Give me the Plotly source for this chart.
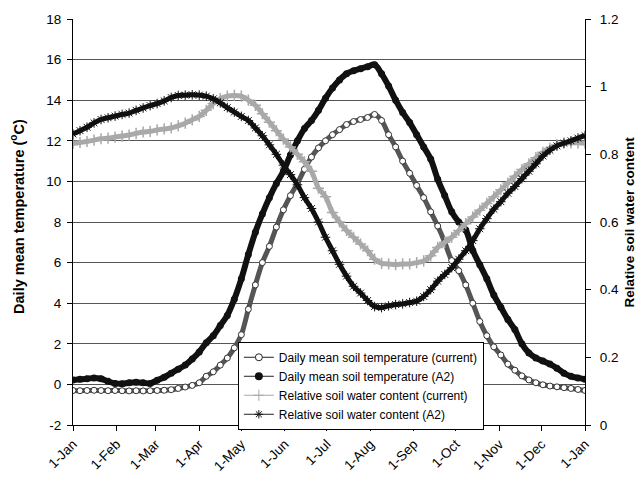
import plotly.graph_objects as go

# Day of year (every 5 days, 0 = 1 Jan, 365 = 1 Jan of the following year)
days = list(range(0, 366, 5))

# Daily mean soil temperature (°C), current climate
temp_current = [
    -0.30, -0.31, -0.30, -0.29, -0.30, -0.31, -0.30, -0.31, -0.32, -0.31,
    -0.32, -0.31, -0.30, -0.29, -0.26, -0.20, -0.13, -0.05, 0.08, 0.40,
    0.62, 0.95, 1.30, 1.80, 2.45, 3.70, 4.90, 6.00, 6.80, 7.75,
    8.60, 9.30, 9.90, 10.60, 11.20, 11.65, 12.00, 12.30, 12.55, 12.80,
    12.95, 13.05, 13.15, 13.30, 13.00, 12.30, 11.70, 11.00, 10.40, 9.80,
    9.20, 8.50, 7.80, 7.00, 6.10, 5.60, 4.90, 4.00, 3.10, 2.40,
    1.85, 1.45, 1.00, 0.70, 0.42, 0.22, 0.08, -0.02, -0.08, -0.12,
    -0.16, -0.20, -0.25, -0.30,
]

# Daily mean soil temperature (°C), A2 scenario
temp_a2 = [
    0.22, 0.25, 0.28, 0.32, 0.28, 0.15, 0.05, 0.03, 0.08, 0.10,
    0.08, 0.05, 0.20, 0.35, 0.55, 0.75, 0.95, 1.25, 1.60, 2.05,
    2.40, 2.90, 3.40, 4.20, 5.20, 6.40, 7.50, 8.40, 9.20, 9.90,
    10.50, 11.30, 12.00, 12.60, 13.00, 13.50, 14.10, 14.60, 15.00, 15.30,
    15.45, 15.55, 15.65, 15.75, 15.30, 14.70, 14.00, 13.40, 12.90, 12.30,
    11.70, 11.10, 10.10, 9.30, 8.50, 8.00, 7.60, 6.60, 5.90, 5.20,
    4.40, 3.80, 3.20, 2.70, 2.00, 1.55, 1.30, 1.15, 1.00, 0.80,
    0.55, 0.40, 0.32, 0.25,
]

# Relative soil water content, current climate
water_current = [
    0.832, 0.835, 0.838, 0.842, 0.846, 0.848, 0.851, 0.854, 0.857, 0.862,
    0.866, 0.868, 0.872, 0.875, 0.878, 0.884, 0.892, 0.902, 0.912, 0.930,
    0.950, 0.965, 0.972, 0.974, 0.972, 0.960, 0.945, 0.920, 0.895, 0.870,
    0.845, 0.822, 0.800, 0.778, 0.750, 0.700, 0.675, 0.628, 0.600, 0.575,
    0.555, 0.535, 0.515, 0.490, 0.478, 0.476, 0.474, 0.476, 0.476, 0.480,
    0.485, 0.500, 0.525, 0.540, 0.555, 0.575, 0.595, 0.615, 0.635, 0.655,
    0.675, 0.695, 0.715, 0.735, 0.755, 0.772, 0.790, 0.806, 0.818, 0.828,
    0.833, 0.834, 0.834, 0.833,
]

# Relative soil water content, A2 scenario
water_a2 = [
    0.860, 0.870, 0.880, 0.893, 0.903, 0.908, 0.913, 0.918, 0.922, 0.930,
    0.937, 0.944, 0.950, 0.958, 0.968, 0.974, 0.975, 0.976, 0.975, 0.972,
    0.964, 0.952, 0.938, 0.925, 0.912, 0.900, 0.878, 0.855, 0.828, 0.800,
    0.768, 0.740, 0.710, 0.672, 0.640, 0.600, 0.555, 0.515, 0.475, 0.440,
    0.410, 0.390, 0.368, 0.350, 0.347, 0.352, 0.356, 0.358, 0.362, 0.366,
    0.380, 0.400, 0.425, 0.445, 0.465, 0.490, 0.515, 0.545, 0.580, 0.610,
    0.638, 0.660, 0.685, 0.705, 0.728, 0.750, 0.772, 0.795, 0.812, 0.825,
    0.833, 0.840, 0.848, 0.855,
]

month_days = [0, 31, 59, 90, 120, 151, 181, 212, 243, 273, 304, 334, 365]
month_labels = ["1-Jan", "1-Feb", "1-Mar", "1-Apr", "1-May", "1-Jun", "1-Jul",
                "1-Aug", "1-Sep", "1-Oct", "1-Nov", "1-Dec", "1-Jan"]

temp_ticks = [-2, 0, 2, 4, 6, 8, 10, 12, 14, 16, 18]
temp_tick_labels = ["-2", "0", "2", "4", "6", "8", "10", "12", "14", "16", "18"]

names = [
    "Daily mean soil temperature (current)",
    "Daily mean soil temperature (A2)",
    "Relative soil water content (current)",
    "Relative soil water content (A2)",
]

FONT = "Liberation Sans, Arial, sans-serif"
GRAY = "#a9a9a9"

fig = go.Figure()

# Dense marker bands for each series
fig.add_trace(go.Scatter(
    x=days, y=temp_current, mode="lines+markers", showlegend=False,
    line=dict(color="#555555", width=5, shape="spline"),
    marker=dict(symbol="circle", size=6, color="white",
                line=dict(color="#333333", width=1)),
))
fig.add_trace(go.Scatter(
    x=days, y=temp_a2, mode="lines+markers", showlegend=False,
    line=dict(color="#111111", width=6, shape="spline"),
    marker=dict(symbol="circle", size=7, color="#111111"),
))
fig.add_trace(go.Scatter(
    x=days, y=water_current, mode="lines+markers", showlegend=False, yaxis="y2",
    line=dict(color=GRAY, width=5, shape="spline"),
    marker=dict(symbol="cross-thin", size=8, color=GRAY,
                line=dict(color=GRAY, width=1.5)),
))
fig.add_trace(go.Scatter(
    x=days, y=water_a2, mode="lines+markers", showlegend=False, yaxis="y2",
    line=dict(color="#111111", width=5, shape="spline"),
    marker=dict(symbol="asterisk", size=8, color="#111111",
                line=dict(color="#111111", width=1)),
))

# Legend entries (thin line with the series marker)
legend_styles = [
    dict(line=dict(color="#222222", width=1),
         marker=dict(symbol="circle", size=7, color="white",
                     line=dict(color="#222222", width=1))),
    dict(line=dict(color="#222222", width=1),
         marker=dict(symbol="circle", size=8, color="#111111")),
    dict(line=dict(color=GRAY, width=1),
         marker=dict(symbol="cross-thin", size=8, color=GRAY,
                     line=dict(color=GRAY, width=1))),
    dict(line=dict(color="#222222", width=1),
         marker=dict(symbol="asterisk", size=7, color="#111111",
                     line=dict(color="#111111", width=1))),
]
for name, style in zip(names, legend_styles):
    fig.add_trace(go.Scatter(x=[None], y=[None], mode="lines+markers",
                             name=name, **style))

axis_common = dict(
    showline=True, linecolor="black", linewidth=1,
    ticks="outside", ticklen=5, tickcolor="black", tickwidth=1,
    tickfont=dict(family=FONT, size=13.5, color="black"),
    zeroline=False,
)

fig.update_layout(
    width=638, height=486,
    margin=dict(l=73, r=53, t=16, b=56),
    paper_bgcolor="white", plot_bgcolor="white",
    font=dict(family=FONT, color="black"),
    xaxis=dict(range=[0, 365], tickmode="array", tickvals=month_days,
               ticktext=month_labels, tickangle=-45, showgrid=False,
               **axis_common),
    yaxis=dict(range=[-2, 18], tickmode="array", tickvals=temp_ticks,
               ticktext=temp_tick_labels, showgrid=True, gridcolor="#555555",
               gridwidth=1, ticklabelstandoff=3, **axis_common),
    yaxis2=dict(range=[0, 1.2], dtick=0.2, overlaying="y", side="right",
                showgrid=False, tickformat="~g", ticklabelstandoff=6,
                **axis_common),
    legend=dict(x=0.322, y=0.205, xanchor="left", yanchor="top",
                bgcolor="white", bordercolor="black", borderwidth=1,
                font=dict(family=FONT, size=12, color="black"),
                tracegroupgap=0, itemwidth=30),
    annotations=[
        dict(text="<b>Daily mean temperature (<sup>o</sup>C)</b>",
             xref="paper", yref="paper", x=-0.109, y=0.513, textangle=-90,
             showarrow=False, xanchor="center", yanchor="middle",
             font=dict(family=FONT, size=14.5, color="black")),
        dict(text="<b>Relative soil water content</b>",
             xref="paper", yref="paper", x=1.085, y=0.5, textangle=-90,
             showarrow=False, xanchor="center", yanchor="middle",
             font=dict(family=FONT, size=13.5, color="black")),
    ],
)

fig.write_html("out.html")
